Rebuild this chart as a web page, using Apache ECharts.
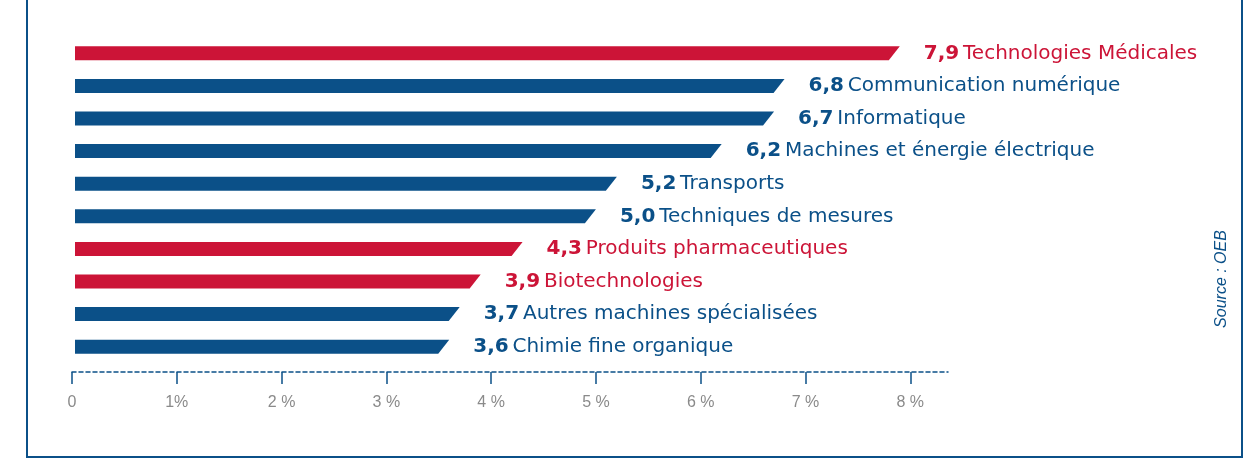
<!DOCTYPE html>
<html>
<head>
<meta charset="utf-8">
<script src="https://cdn.jsdelivr.net/npm/echarts@6/dist/echarts.min.js"></script>
<style>
  html, body { margin: 0; padding: 0; background: #fff; }
  #chart { width: 1255px; height: 458px; }
</style>
</head>
<body>
<div id="chart"></div>
<script>
// données
const categories = [
  "Technologies Médicales",
  "Communication numérique",
  "Informatique",
  "Machines et énergie électrique",
  "Transports",
  "Techniques de mesures",
  "Produits pharmaceutiques",
  "Biotechnologies",
  "Autres machines spécialisées",
  "Chimie fine organique"
];
const values = [7.9, 6.8, 6.7, 6.2, 5.2, 5.0, 4.3, 3.9, 3.7, 3.6];
const highlighted = [true, false, false, false, false, false, true, true, false, false];
const tickValues = [0, 1, 2, 3, 4, 5, 6, 7, 8];
const tickLabels = ["0", "1%", "2 %", "3 %", "4 %", "5 %", "6 %", "7 %", "8 %"];

const RED = "#cc1437";
const BLUE = "#0b5088";
const FONT = "'DejaVu Sans', sans-serif";

const chart = echarts.init(document.getElementById("chart"));

const renderBar = (params, api) => {
  const idx = api.value(0);
  const val = api.value(1);
  const start = api.coord([0, idx]);
  const end = api.coord([val, idx]);
  const h = 14;
  const slant = 11;
  const color = highlighted[idx] ? RED : BLUE;
  const x0 = start[0] + 3;
  const y = end[1];
  return {
    type: "group",
    children: [
      {
        type: "polygon",
        shape: {
          points: [
            [x0, y - h / 2],
            [end[0], y - h / 2],
            [end[0] - slant, y + h / 2],
            [x0, y + h / 2]
          ]
        },
        style: { fill: color }
      },
      {
        type: "text",
        x: end[0] + 24,
        y: y,
        style: {
          text: "{v|" + val.toFixed(1).replace(".", ",") + "}{s| }{n|" + categories[idx] + "}",
          verticalAlign: "middle",
          align: "left",
          rich: {
            v: { fontFamily: FONT, fontSize: 20, fontWeight: "bold", fill: color },
            s: { fontFamily: FONT, fontSize: 12, fill: color },
            n: { fontFamily: FONT, fontSize: 20, fill: color }
          }
        }
      }
    ]
  };
};

const option = {
  animation: false,
  grid: { left: 72, right: 307, top: 37, bottom: 95, containLabel: false },
  xAxis: {
    type: "value",
    min: 0,
    max: 8.36,
    offset: 9,
    axisLine: { show: true, lineStyle: { color: BLUE, width: 1.5, type: [4, 3] } },
    axisTick: {
      show: true,
      customValues: tickValues,
      length: 12,
      lineStyle: { color: BLUE, width: 1.5 }
    },
    axisLabel: {
      customValues: tickValues,
      margin: 23,
      fontFamily: "'Liberation Sans', sans-serif",
      fontSize: 16,
      color: "#8a8a8a",
      formatter: (v) => tickLabels[tickValues.indexOf(v)]
    },
    splitLine: { show: false }
  },
  yAxis: {
    type: "category",
    data: categories,
    inverse: true,
    show: false
  },
  series: [
    {
      type: "custom",
      renderItem: renderBar,
      encode: { x: 1, y: 0 },
      data: values.map((v, i) => [i, v])
    }
  ],
  graphic: [
    {
      type: "polyline",
      shape: { points: [[27, 0], [27, 457], [1242, 457], [1242, 0]] },
      style: { stroke: BLUE, lineWidth: 2, fill: null }
    },
    {
      type: "text",
      x: 1222,
      y: 279,
      rotation: Math.PI / 2,
      style: {
        text: "Source : OEB",
        fontFamily: "'Liberation Sans', sans-serif",
        fontStyle: "italic",
        fontSize: 16,
        fill: BLUE,
        align: "center",
        verticalAlign: "middle"
      }
    }
  ]
};

chart.setOption(option);
</script>
</body>
</html>
